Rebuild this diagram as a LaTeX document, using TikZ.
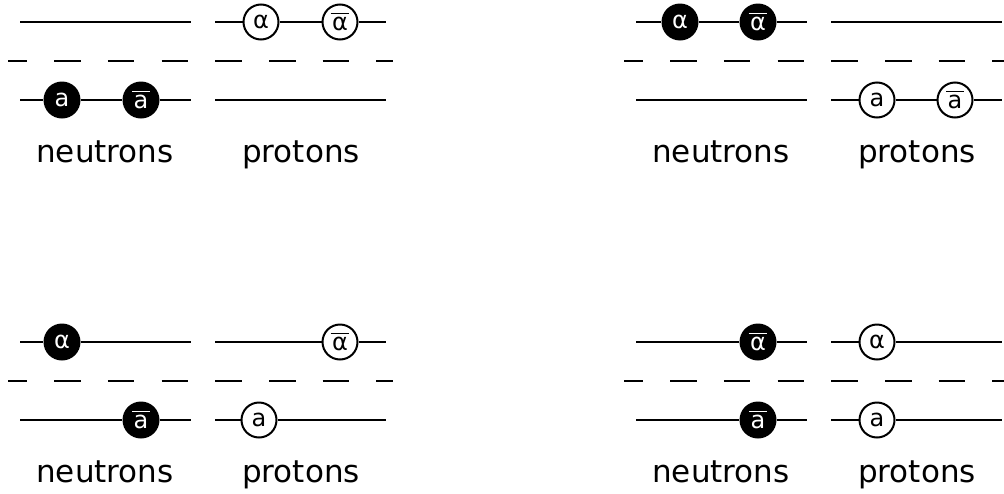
\documentclass[tikz,border=0pt]{standalone}
\usepackage{fontspec}
\setmainfont{DejaVu Sans}
\usetikzlibrary{positioning}

% bar over a letter (antiparticle)
\newcommand{\barred}[1]{\leavevmode\setbox0=\hbox{#1}%
  \rlap{\kern-1.4pt\raisebox{\dimexpr\ht0+3pt\relax}{\rule{\dimexpr\wd0+2.8pt\relax}{1.6pt}}}\box0}

\tikzset{
  level/.style={line width=2pt},
  gap/.style={line width=2pt, dash pattern=on 26.5pt off 27.2pt, dash phase=7.5pt},
  neutron/.style={circle, fill=black, text=white, minimum size=37pt, inner sep=0pt,
    font=\fontsize{24}{24}\selectfont},
  proton/.style={circle, draw=black, fill=white, line width=2pt, minimum size=35pt,
    inner sep=0pt, font=\fontsize{24}{24}\selectfont},
  species/.style={anchor=base, inner sep=0pt, font=\fontsize{31}{31}\selectfont}
}

\begin{document}
\begin{tikzpicture}[x=1pt, y=-1pt]
    \useasboundingbox (0,0) rectangle (1004,493);

    % the four panels: level ends, gap and labels
    \foreach \p/\dx/\dy in {tl/0/0, tr/616/0, bl/0/320, br/616/320} {
        \begin{scope}[shift={(\dx,\dy)}, name prefix=\p-]
            \coordinate (nu-w) at (20,22);   \coordinate (nu-e) at (191,22);
            \coordinate (nd-w) at (20,100);  \coordinate (nd-e) at (191,100);
            \coordinate (pu-w) at (215,22);  \coordinate (pu-e) at (386,22);
            \coordinate (pd-w) at (215,100); \coordinate (pd-e) at (386,100);
            \draw[gap] (8,61) -- (393,61);
            \node[species] (neut) at (105,162) {neutrons};
            \node[species] (prot) at (301,162) {protons};
        \end{scope}
    }

    % top left
    \begin{scope}[name prefix=tl-]
        \node[neutron] (a) at (62,100) {a};
        \node[neutron] (abar) at (141,100) {\barred{a}};
        \node[proton] (al) at (261,22) {α};
        \node[proton] (albar) at (340,22) {\barred{α}};
        \draw[level] (nu-w) -- (nu-e);
        \draw[level] (nd-w) -- (a) -- (abar) -- (nd-e);
        \draw[level] (pu-w) -- (al) -- (albar) -- (pu-e);
        \draw[level] (pd-w) -- (pd-e);
    \end{scope}

    % top right
    \begin{scope}[shift={(616,0)}, name prefix=tr-]
        \node[neutron] (al) at (64,22) {α};
        \node[neutron] (albar) at (142,22) {\barred{α}};
        \node[proton] (a) at (261,100) {a};
        \node[proton] (abar) at (339,100) {\barred{a}};
        \draw[level] (nu-w) -- (al) -- (albar) -- (nu-e);
        \draw[level] (nd-w) -- (nd-e);
        \draw[level] (pu-w) -- (pu-e);
        \draw[level] (pd-w) -- (a) -- (abar) -- (pd-e);
    \end{scope}

    % bottom left
    \begin{scope}[shift={(0,320)}, name prefix=bl-]
        \node[neutron] (al) at (62,22) {α};
        \node[neutron] (abar) at (141,100) {\barred{a}};
        \node[proton] (albar) at (340,22) {\barred{α}};
        \node[proton] (a) at (259,100) {a};
        \draw[level] (nu-w) -- (al) -- (nu-e);
        \draw[level] (nd-w) -- (abar) -- (nd-e);
        \draw[level] (pu-w) -- (albar) -- (pu-e);
        \draw[level] (pd-w) -- (a) -- (pd-e);
    \end{scope}

    % bottom right
    \begin{scope}[shift={(616,320)}, name prefix=br-]
        \node[neutron] (albar) at (142,22) {\barred{α}};
        \node[neutron] (abar) at (142,100) {\barred{a}};
        \node[proton] (al) at (261,22) {α};
        \node[proton] (a) at (261,100) {a};
        \draw[level] (nu-w) -- (albar) -- (nu-e);
        \draw[level] (nd-w) -- (abar) -- (nd-e);
        \draw[level] (pu-w) -- (al) -- (pu-e);
        \draw[level] (pd-w) -- (a) -- (pd-e);
    \end{scope}
\end{tikzpicture}
\end{document}
